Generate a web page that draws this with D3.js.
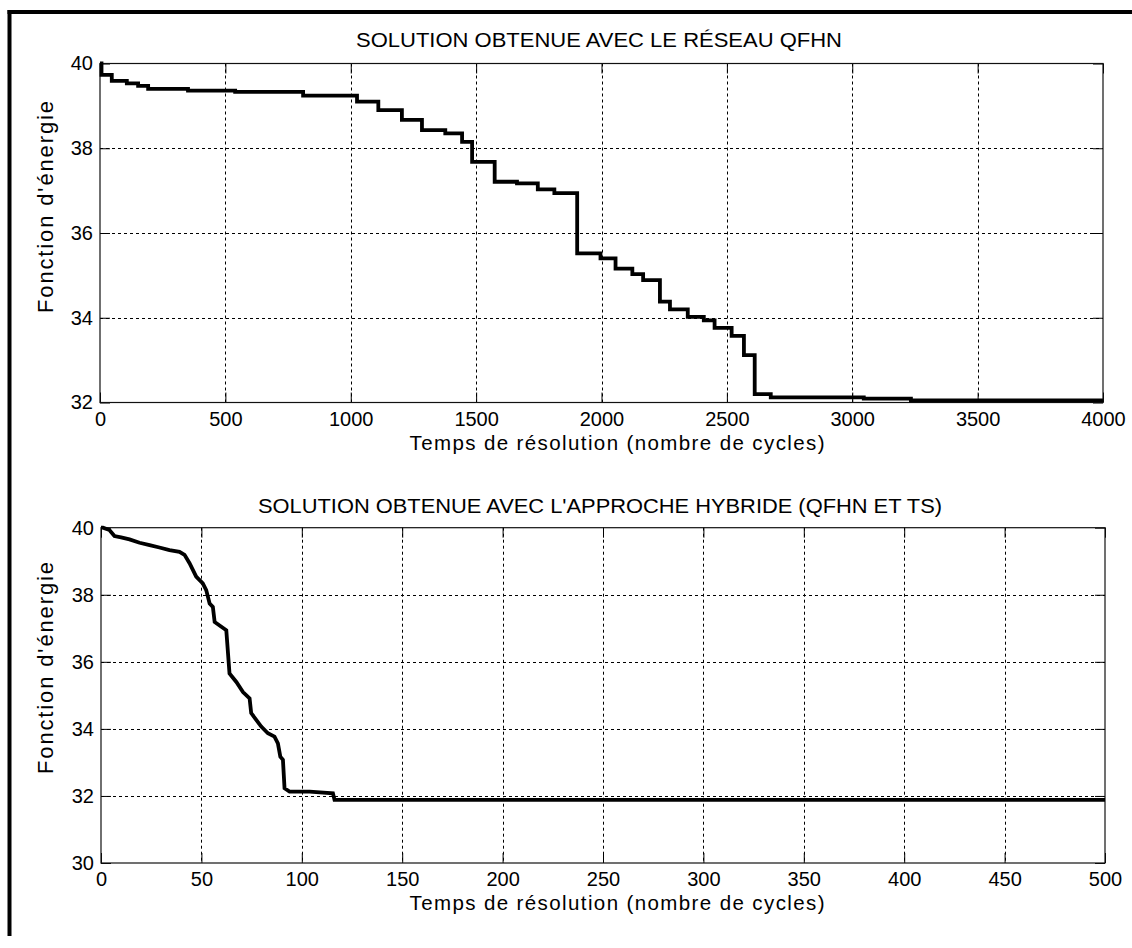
<!DOCTYPE html>
<html>
<head>
<meta charset="utf-8">
<script src="https://cdn.jsdelivr.net/npm/d3@7"></script>
<style>
  body { margin: 0; background: #fff; }
  svg text { font-family: "Liberation Sans", Arial, Helvetica, sans-serif; fill: #000; }
</style>
</head>
<body>
<svg id="chart" width="1132" height="948"></svg>
<script>
// Energy reached by the QFHN network (stepwise, per cycle)
const qfhnCycles = [0, 6, 47, 107, 152, 192, 351, 539, 810, 1025, 1110, 1204, 1284, 1377, 1444, 1484,
  1574, 1663, 1746, 1812, 1903, 1996, 2056, 2123, 2166, 2233, 2273, 2344, 2408, 2451, 2519, 2568,
  2611, 2675, 3046, 3234, 4000];
const qfhnEnergy = [40, 39.73, 39.59, 39.53, 39.47, 39.40, 39.36, 39.33, 39.24, 39.10, 38.90, 38.67,
  38.43, 38.35, 38.15, 37.68, 37.21, 37.17, 37.03, 36.94, 35.52, 35.40, 35.16, 35.03, 34.89, 34.38,
  34.20, 34.02, 33.94, 33.76, 33.57, 33.12, 32.20, 32.12, 32.09, 32.05, 32.05];

// Energy reached by the hybrid approach (QFHN + tabu search)
const hybridCycles = [0, 1, 4.2, 6.7, 10, 14.2, 19.2, 24.2, 29.1, 34.1, 39.1, 41.6, 44.1, 47.4, 50.7,
  52.4, 54.1, 55.7, 56.6, 62.4, 64, 67.4, 70.7, 74, 74.8, 77.3, 79.8, 83.1, 86.4, 88.1, 89.3, 90.6,
  91.4, 93.9, 103.9, 115.5, 116.3, 500];
const hybridEnergy = [40, 40, 39.93, 39.75, 39.71, 39.65, 39.55, 39.48, 39.41, 39.33, 39.28, 39.19,
  38.94, 38.54, 38.34, 38.14, 37.74, 37.64, 37.19, 36.94, 35.65, 35.40, 35.10, 34.91, 34.47, 34.27,
  34.07, 33.87, 33.77, 33.57, 33.17, 33.08, 32.23, 32.13, 32.13, 32.08, 31.88, 31.88];

// Tick values and labels
const qfhnXTicks = [0, 500, 1000, 1500, 2000, 2500, 3000, 3500, 4000];
const qfhnYTicks = [32, 34, 36, 38, 40];
const hybridXTicks = [0, 50, 100, 150, 200, 250, 300, 350, 400, 450, 500];
const hybridYTicks = [30, 32, 34, 36, 38, 40];

const qfhnTitle = "SOLUTION OBTENUE AVEC LE RÉSEAU QFHN";
const hybridTitle = "SOLUTION OBTENUE AVEC L'APPROCHE HYBRIDE (QFHN ET TS)";
const xLabelText = "Temps de résolution (nombre de cycles)";
const yLabelText = "Fonction d'énergie";

const svg = d3.select("#chart");

// Outer frame (top and left edges)
svg.append("line").attr("x1", 7.5).attr("x2", 1132).attr("y1", 12).attr("y2", 12)
  .attr("stroke", "#000").attr("stroke-width", 4);
svg.append("line").attr("x1", 9.5).attr("x2", 9.5).attr("y1", 10).attr("y2", 936)
  .attr("stroke", "#000").attr("stroke-width", 4);

function drawPanel(cfg) {
  const x = d3.scaleLinear().domain(cfg.xDomain).range([cfg.left, cfg.right]);
  const y = d3.scaleLinear().domain(cfg.yDomain).range([cfg.bottom, cfg.top]);
  const g = svg.append("g");

  // dotted grid
  const grid = g.append("g").attr("stroke", "#000").attr("stroke-width", 1)
    .attr("stroke-dasharray", "3,3");
  cfg.xTicks.slice(1, -1).forEach(v => {
    grid.append("line").attr("x1", Math.round(x(v)) + 0.5).attr("x2", Math.round(x(v)) + 0.5)
      .attr("y1", cfg.top).attr("y2", cfg.bottom);
  });
  cfg.yTicks.slice(1, -1).forEach(v => {
    grid.append("line").attr("y1", Math.round(y(v)) + 0.5).attr("y2", Math.round(y(v)) + 0.5)
      .attr("x1", cfg.left).attr("x2", cfg.right);
  });

  // axes with inward ticks
  const tickLen = 10;
  const ax = g.append("g").attr("transform", `translate(0,${cfg.bottom})`)
    .call(d3.axisBottom(x).tickValues(cfg.xTicks).tickSize(-tickLen).tickPadding(9)
      .tickFormat(d3.format("d")));
  const axTop = g.append("g").attr("transform", `translate(0,${cfg.top})`)
    .call(d3.axisTop(x).tickValues(cfg.xTicks).tickSize(-tickLen).tickFormat(""));
  const ay = g.append("g").attr("transform", `translate(${cfg.left},0)`)
    .call(d3.axisLeft(y).tickValues(cfg.yTicks).tickSize(-tickLen).tickPadding(7)
      .tickFormat(d3.format("d")));
  const ayR = g.append("g").attr("transform", `translate(${cfg.right},0)`)
    .call(d3.axisRight(y).tickValues(cfg.yTicks).tickSize(-tickLen).tickFormat(""));
  [ax, axTop, ay, ayR].forEach(a => {
    a.select(".domain").remove();
    a.attr("font-size", null).attr("font-family", null);
    a.selectAll(".tick line").attr("stroke", "#000").attr("stroke-width", 1);
    a.selectAll("text").attr("font-size", 20).attr("fill", "#000");
  });

  // plot box
  g.append("rect").attr("x", cfg.left).attr("y", cfg.top)
    .attr("width", cfg.right - cfg.left).attr("height", cfg.bottom - cfg.top)
    .attr("fill", "none").attr("stroke", "#111").attr("stroke-width", 1.2);

  // curve
  const pts = cfg.cycles.map((c, i) => [c, cfg.energy[i]]);
  g.append("path").datum(pts)
    .attr("d", d3.line().x(d => x(d[0])).y(d => y(d[1])).curve(cfg.curve))
    .attr("fill", "none").attr("stroke", "#000").attr("stroke-width", 3.8)
    .attr("stroke-linejoin", "miter");

  // texts
  g.append("text").attr("x", cfg.titleX).attr("y", cfg.titleY).attr("text-anchor", "middle")
    .attr("font-size", 20).attr("textLength", cfg.titleLen).attr("lengthAdjust", "spacingAndGlyphs")
    .text(cfg.title);
  g.append("text").attr("x", 617).attr("y", cfg.bottom + 47)
    .attr("text-anchor", "middle").attr("font-size", 20.5)
    .attr("textLength", 415).attr("lengthAdjust", "spacing").text(xLabelText);
  g.append("text").attr("transform", `translate(${cfg.yLabelX},${cfg.yLabelY}) rotate(-90)`)
    .attr("text-anchor", "middle").attr("font-size", 22)
    .attr("textLength", 212).attr("lengthAdjust", "spacing").text(yLabelText);
}

drawPanel({
  xDomain: [0, 4000], yDomain: [32, 40],
  left: 100, right: 1103, top: 63.5, bottom: 402.5,
  xTicks: qfhnXTicks, yTicks: qfhnYTicks,
  cycles: qfhnCycles, energy: qfhnEnergy, curve: d3.curveStepAfter,
  title: qfhnTitle, titleX: 599, titleY: 47, titleLen: 486,
  yLabelX: 53, yLabelY: 207
});

drawPanel({
  xDomain: [0, 500], yDomain: [30, 40],
  left: 101, right: 1105, top: 527.7, bottom: 863,
  xTicks: hybridXTicks, yTicks: hybridYTicks,
  cycles: hybridCycles, energy: hybridEnergy, curve: d3.curveLinear,
  title: hybridTitle, titleX: 600, titleY: 513, titleLen: 684,
  yLabelX: 53, yLabelY: 668
});
</script>
</body>
</html>
